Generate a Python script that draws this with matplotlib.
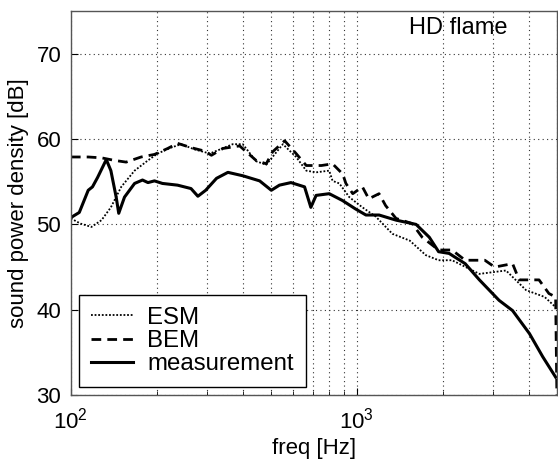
import matplotlib
matplotlib.use("Agg")
import matplotlib.pyplot as plt
from matplotlib.ticker import LogLocator, NullFormatter, FixedLocator

plt.rcParams["font.family"] = ["Liberation Sans", "DejaVu Sans"]
plt.rcParams["mathtext.fontset"] = "custom"
plt.rcParams["mathtext.rm"] = "Liberation Sans"

# values (freq in Hz, level in dB)
meas_f = [100, 107, 115, 119, 124, 133, 138, 144, 147, 154, 167, 178, 186, 196,
          209, 236, 263, 278, 296, 323, 354, 399, 457, 502, 536, 588, 656, 690,
          720, 800, 890, 990, 1075, 1195, 1370, 1610, 1790, 1930, 2100, 2390,
          2680, 3140, 3500, 4010, 4460, 4950]
meas_db = [50.8, 51.4, 54.0, 54.4, 55.5, 57.6, 56.3, 53.2, 51.3, 53.2, 54.8,
           55.2, 54.9, 55.1, 54.8, 54.6, 54.2, 53.3, 54.0, 55.4, 56.1, 55.7,
           55.1, 54.0, 54.6, 54.9, 54.4, 52.0, 53.4, 53.6, 52.8, 51.8, 51.1,
           51.1, 50.5, 50.0, 48.5, 46.8, 46.6, 45.4, 43.5, 41.1, 39.9, 37.2,
           34.5, 32.1]

bem_f = [100, 115, 128, 142, 156, 176, 196, 218, 236, 263, 293, 310, 340, 389,
         444, 482, 507, 559, 613, 665, 700, 751, 822, 892, 915, 967, 1045, 1100,
         1195, 1260, 1370, 1560, 1690, 1930, 2150, 2390, 2800, 3030, 3500,
         3690, 4330, 4690, 4950, 5000]
bem_db = [57.9, 57.9, 57.8, 57.5, 57.3, 57.9, 58.2, 58.9, 59.5, 59.0, 58.6,
          58.1, 58.9, 59.2, 57.5, 57.1, 58.5, 59.8, 58.3, 56.9, 56.9, 56.9,
          57.1, 55.9, 54.8, 53.6, 54.4, 53.0, 53.6, 52.2, 50.7, 50.1, 48.5,
          47.0, 47.0, 45.8, 45.8, 45.0, 45.4, 43.5, 43.5, 41.9, 41.5, 30.0]

esm_f = [100, 108, 118, 128, 138, 150, 167, 186, 201, 224, 243, 270, 306, 368,
         399, 444, 482, 551, 613, 665, 720, 800, 822, 868, 940, 1045, 1165,
         1330, 1530, 1740, 1930, 2150, 2680, 3320, 3900, 4530, 4950]
esm_db = [50.7, 50.1, 49.7, 50.5, 52.0, 54.4, 56.3, 57.5, 58.3, 59.0, 59.4,
          58.8, 58.3, 59.4, 59.4, 57.4, 57.0, 59.4, 57.9, 56.3, 56.1, 56.3,
          55.1, 54.8, 53.2, 52.0, 50.9, 48.9, 48.1, 46.4, 45.8, 45.8, 44.2,
          44.6, 42.3, 41.5, 40.3]

y_ticks = [30, 40, 50, 60, 70]

fig = plt.figure(figsize=(5.58, 4.61), dpi=100)
ax = fig.add_axes([0.127, 0.143, 0.871, 0.833])

ax.plot(esm_f, esm_db, color="black", lw=1.3, linestyle=(0, (1, 1)), label="ESM")
ax.plot(bem_f, bem_db, color="black", lw=2.0, linestyle=(0, (3.5, 2.2)), label="BEM")
ax.plot(meas_f, meas_db, color="black", lw=2.2, label="measurement")

ax.set_xscale("log")
ax.set_xlim(100, 5000)
ax.set_ylim(30, 75)
ax.yaxis.set_major_locator(FixedLocator(y_ticks))
ax.xaxis.set_major_locator(LogLocator(base=10, numticks=10))
ax.xaxis.set_minor_locator(LogLocator(base=10, subs=range(2, 10), numticks=20))
ax.xaxis.set_minor_formatter(NullFormatter())

ax.grid(True, which="both", axis="x", linestyle=(0, (1, 3)), color="#333333", lw=0.8)
ax.grid(True, which="major", axis="y", linestyle=(0, (1, 3)), color="#333333", lw=0.8)

ax.tick_params(which="both", direction="in", labelsize=16, top=False, right=False)
ax.tick_params(which="major", length=5)
ax.tick_params(which="minor", length=3)
ax.tick_params(axis="x", which="major", pad=9)
ax.tick_params(axis="y", which="major", pad=7)
for sp in ax.spines.values():
    sp.set_color("#555555")
    sp.set_linewidth(1.0)

ax.set_xlabel("freq [Hz]", fontsize=16, labelpad=3)
ax.set_ylabel("sound power density [dB]", fontsize=16, labelpad=5)

ax.text(0.899, 0.985, "HD flame", transform=ax.transAxes, fontsize=17,
        ha="right", va="top")

leg = ax.legend(loc="lower left", fontsize=17.3, handlelength=1.75,
                handletextpad=0.6, labelspacing=0.05, borderaxespad=0.33,
                borderpad=0.5, fancybox=False, framealpha=1, edgecolor="black")
leg.get_frame().set_linewidth(1.0)

fig.savefig("out.png", dpi=100)
